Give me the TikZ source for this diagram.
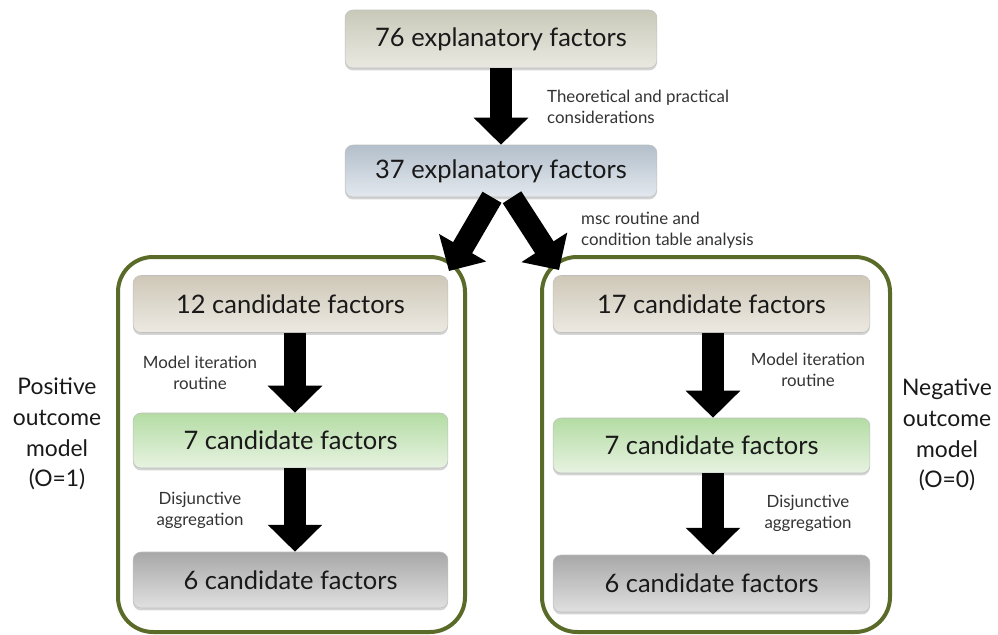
\documentclass[tikz,border=0pt]{standalone}
\usepackage{fontspec}
\setmainfont{Lato}
\usetikzlibrary{arrows.meta,shadows}

\definecolor{frameolive}{HTML}{5A6A28}
\definecolor{tanTop}{HTML}{CFC8B8}
\definecolor{tanBot}{HTML}{ECE9E2}
\definecolor{greyTop}{HTML}{C9C9BA}
\definecolor{greyBot}{HTML}{E9E9E1}
\definecolor{blueTop}{HTML}{B3BFCB}
\definecolor{blueBot}{HTML}{E3E8EE}
\definecolor{greenTop}{HTML}{B4DCA4}
\definecolor{greenBot}{HTML}{E7F3E1}
\definecolor{darkTop}{HTML}{A8A8A8}
\definecolor{darkBot}{HTML}{E0E0E0}

\tikzset{
  factorbox/.style={rounded corners=0.16cm, draw=black!25, line width=0.3pt,
    minimum height=1.14cm, inner sep=0pt,
    font=\fontsize{14.5}{17}\selectfont, text=black!90,
    drop shadow={opacity=0.35, shadow xshift=0cm, shadow yshift=-0.05cm}},
  grayfill/.style={top color=greyTop, bottom color=greyBot},
  bluefill/.style={top color=blueTop, bottom color=blueBot},
  tanfill/.style={top color=tanTop, bottom color=tanBot},
  greenfill/.style={top color=greenTop, bottom color=greenBot},
  darkfill/.style={top color=darkTop, bottom color=darkBot},
  bigarrow/.style={line width=0.44cm, black,
    -{Triangle[width=1.06cm, length=0.54cm]}},
  steplabel/.style={align=center, font=\fontsize{9.6}{12}\selectfont, text=black!80},
  sidelabel/.style={align=center, font=\fontsize{13}{17.5}\selectfont, text=black!90},
  modelframe/.style={draw=frameolive, line width=0.08cm, rounded corners=0.7cm}
}

\begin{document}
\begin{tikzpicture}[x=0.02cm, y=-0.02cm]
\useasboundingbox (0,0) rectangle (998,635);

% model frames
\draw[modelframe] (118,257) rectangle (465,632);
\draw[modelframe] (542,257) rectangle (890,632);

% top factor boxes
\node[factorbox, grayfill, minimum width=6.24cm, minimum height=1.16cm] (b76) at (501,39) {76 explanatory factors};
\node[factorbox, bluefill, minimum width=6.24cm, minimum height=1.04cm] (b37) at (501,171) {37 explanatory factors};

% positive outcome model
\node[factorbox, tanfill, minimum width=6.3cm] (L12) at (290.5,304) {12 candidate factors};
\node[factorbox, greenfill, minimum width=6.3cm, minimum height=1.1cm] (L7) at (290.5,440.5) {7 candidate factors};
\node[factorbox, darkfill, minimum width=6.3cm, minimum height=1.12cm] (L6) at (290.5,580) {6 candidate factors};

% negative outcome model
\node[factorbox, tanfill, minimum width=6.34cm] (R17) at (711.5,304) {17 candidate factors};
\node[factorbox, greenfill, minimum width=6.34cm, minimum height=1.1cm] (R7) at (711.5,445.5) {7 candidate factors};
\node[factorbox, darkfill, minimum width=6.34cm, minimum height=1.14cm] (R6) at (711.5,583.5) {6 candidate factors};

% arrow ends under the 37-factor box
\coordinate (tipL) at (449,271);
\coordinate (tipR) at (559,270);

% arrows
\draw[bigarrow] (b76.south) -- (b37.north);
\draw[bigarrow] ([xshift=-0.18cm]b37.south) -- (tipL);
\draw[bigarrow] ([xshift=0.22cm]b37.south) -- (tipR);
\draw[bigarrow] ([xshift=0.09cm]L12.south) -- ([xshift=0.09cm]L7.north);
\draw[bigarrow] ([xshift=0.09cm]L7.south) -- ([xshift=0.09cm]L6.north);
\draw[bigarrow] ([xshift=0.03cm]R17.south) -- ([xshift=0.03cm]R7.north);
\draw[bigarrow] ([xshift=0.03cm]R7.south) -- ([xshift=0.03cm]R6.north);

% step labels
\node[steplabel, align=left, anchor=west] (t1) at (541,107) {Theoretical and practical\\considerations};
\node[steplabel, align=left, anchor=west] (t2) at (575,230) {msc routine and\\condition table analysis};
\node[steplabel] (t3) at (200,373) {Model iteration\\routine};
\node[steplabel] (t4) at (200,510) {Disjunctive\\aggregation};
\node[steplabel] (t5) at (808,370) {Model iteration\\routine};
\node[steplabel] (t6) at (808,513) {Disjunctive\\aggregation};

% side labels
\node[sidelabel] (pos) at (57,434) {Positive\\outcome\\model\\(O=1)};
\node[sidelabel] (neg) at (947,435) {Negative\\outcome\\model\\(O=0)};
\end{tikzpicture}
\end{document}
